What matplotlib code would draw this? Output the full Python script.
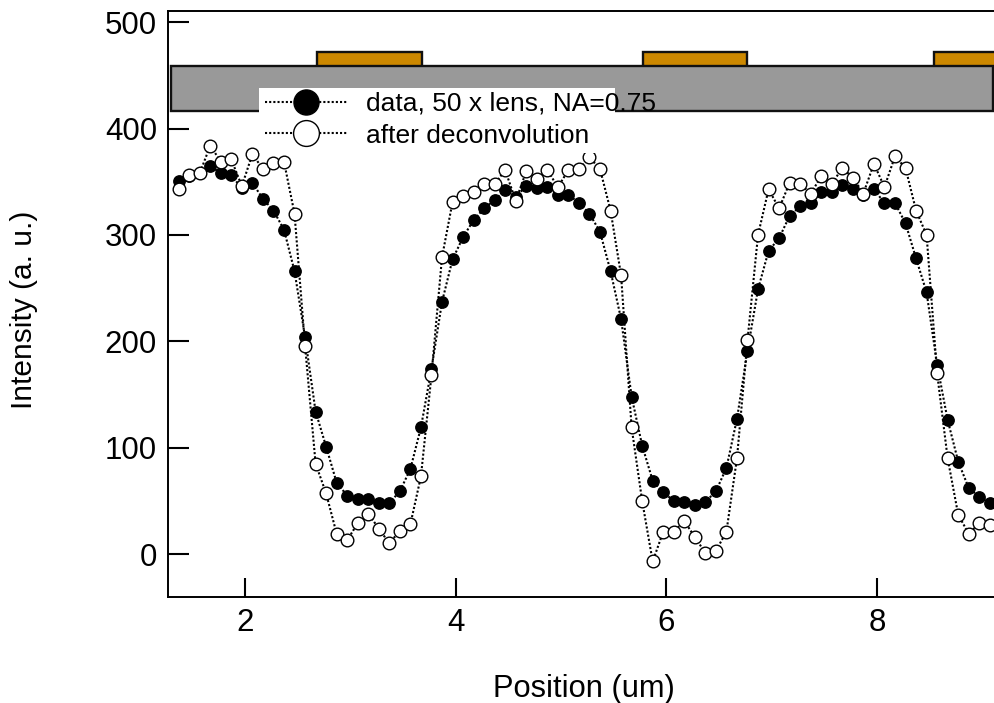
import matplotlib
matplotlib.use('Agg')
import matplotlib.pyplot as plt
from matplotlib.patches import Rectangle

position = [1.37, 1.47, 1.57, 1.67, 1.77, 1.87, 1.97, 2.07, 2.17, 2.27,
            2.37, 2.47, 2.57, 2.67, 2.77, 2.87, 2.97, 3.07, 3.17, 3.27,
            3.37, 3.47, 3.57, 3.67, 3.77, 3.87, 3.97, 4.07, 4.17, 4.27,
            4.37, 4.47, 4.57, 4.67, 4.77, 4.87, 4.97, 5.07, 5.17, 5.27,
            5.37, 5.47, 5.57, 5.67, 5.77, 5.87, 5.97, 6.07, 6.17, 6.27,
            6.37, 6.47, 6.57, 6.67, 6.77, 6.87, 6.97, 7.07, 7.17, 7.27,
            7.37, 7.47, 7.57, 7.67, 7.77, 7.87, 7.97, 8.07, 8.17, 8.27,
            8.37, 8.47, 8.57, 8.67, 8.77, 8.87, 8.97, 9.07]
measured = [351, 355, 358, 365, 358, 356, 344, 349, 334, 323,
            305, 266, 204, 134, 101, 67, 55, 52, 52, 48,
            48, 59, 80, 119, 174, 237, 277, 298, 314, 325,
            333, 342, 336, 346, 344, 345, 338, 338, 330, 320,
            303, 266, 221, 148, 102, 69, 58, 50, 49, 46,
            49, 59, 81, 127, 191, 249, 285, 297, 318, 327,
            330, 340, 340, 347, 343, 338, 343, 330, 330, 311,
            278, 246, 178, 126, 87, 62, 54, 48]
deconvolved = [343, 356, 358, 384, 369, 371, 346, 376, 362, 368,
               369, 320, 196, 85, 57, 19, 13, 29, 38, 24,
               10, 22, 28, 73, 168, 279, 331, 337, 340, 348,
               348, 361, 332, 360, 353, 361, 345, 361, 362, 373,
               362, 323, 262, 119, 50, -7, 21, 21, 31, 16,
               1, 3, 21, 90, 201, 300, 343, 325, 349, 348,
               339, 355, 348, 363, 354, 339, 367, 345, 374, 363,
               323, 300, 170, 90, 37, 19, 29, 27]

# metal lines on top of the substrate (start, end in um)
metal_lines = [(2.684, 3.68), (5.78, 6.77), (8.54, 9.3)]

plt.rcParams['font.family'] = ['Liberation Sans', 'DejaVu Sans']

fig = plt.figure(figsize=(9.94, 7.03), dpi=100)
ax = fig.add_axes([168 / 994, 1 - 597 / 703, 826 / 994, 586 / 703])
ax.set_xlim(1.269, 9.11)
ax.set_ylim(-40.4, 510.6)

for start, end in metal_lines:
    ax.add_patch(Rectangle((start, 457), end - start, 15, fc='#cc8800', ec='#111111', lw=1.7, zorder=1))
ax.add_patch(Rectangle((1.30, 417), 7.80, 41.5, fc='#999999', ec='#111111', lw=1.7, zorder=2))

dots = {'linestyle': (0, (1, 1)), 'linewidth': 1.5, 'color': 'black', 'markeredgecolor': 'black'}
ax.plot(position, measured, marker='o', markersize=8.2, markerfacecolor='black',
        zorder=3, label='data, 50 x lens, NA=0.75', **dots)
ax.plot(position, deconvolved, marker='o', markersize=9.1, markerfacecolor='white',
        markeredgewidth=1, zorder=4, label='after deconvolution', **dots)

# white legend backing, narrower than its text
ax.add_patch(Rectangle((2.13, 377), 3.38, 61, fc='white', ec='none', zorder=5))
leg = ax.legend(loc='upper left', bbox_to_anchor=(0.1175, 0.862), frameon=False, fontsize=19,
                markerscale=2.2, handlelength=3.14, handletextpad=0.68, labelspacing=0.29,
                borderpad=0, borderaxespad=0)
leg.set_zorder(6)
leg.get_lines()[1].set_markersize(18.6)

ax.set_xticks([2, 4, 6, 8])
ax.set_yticks([0, 100, 200, 300, 400, 500])
ax.tick_params(axis='x', direction='in', length=14, width=1.5, labelsize=22.5, pad=8)
ax.tick_params(axis='y', direction='in', length=15, width=1.5, labelsize=22.5, pad=8)
ax.spines['right'].set_visible(False)
for side in ['left', 'top', 'bottom']:
    ax.spines[side].set_linewidth(1.4)

ax.set_xlabel('Position (um)', fontsize=22.2)
ax.set_ylabel('Intensity (a. u.)', fontsize=21.5)
ax.xaxis.set_label_coords(0.503, -0.131)
ax.yaxis.set_label_coords(-0.157, 0.49)

plt.savefig('out.png', dpi=100)
